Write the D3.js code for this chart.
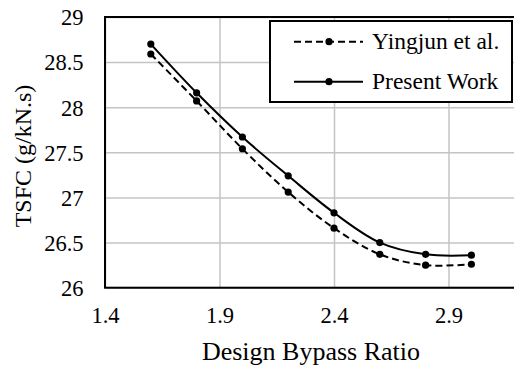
<!DOCTYPE html>
<html>
<head>
<meta charset="utf-8">
<script src="https://cdn.jsdelivr.net/npm/d3@7"></script>
<style>
  html, body { margin: 0; padding: 0; background: #fff; overflow: hidden; }
  svg text { font-family: "Liberation Serif", "Times New Roman", serif !important; fill: #000; }
</style>
</head>
<body>
<svg id="chart" width="514" height="370"></svg>
<script>
// Design bypass ratio sweep and the resulting TSFC values
const bypassRatio = [1.6, 1.8, 2.0, 2.2, 2.4, 2.6, 2.8, 3.0];
const yingjunTSFC = [28.59, 28.07, 27.54, 27.06, 26.66, 26.37, 26.25, 26.26];
const presentTSFC = [28.70, 28.16, 27.67, 27.24, 26.83, 26.50, 26.37, 26.36];
const xTicks = [1.4, 1.9, 2.4, 2.9];
const yTicks = [26, 26.5, 27, 27.5, 28, 28.5, 29];
const seriesNames = ["Yingjun et al.", "Present Work"];

const svg = d3.select("#chart");
const plotLeft = 105, plotTop = 17, plotBottom = 287.7, plotRight = 563;

const x = d3.scaleLinear().domain([1.4, 3.4]).range([plotLeft, plotRight]);
const y = d3.scaleLinear().domain([26, 29]).range([plotBottom, plotTop]);

// gridlines
svg.append("g")
  .attr("transform", `translate(0,${plotBottom})`)
  .call(d3.axisBottom(x).tickValues(xTicks).tickSize(-(plotBottom - plotTop)).tickFormat(""))
  .call(g => g.select(".domain").remove())
  .call(g => g.selectAll("line").attr("stroke", "#c4c4c4").attr("stroke-width", 1.5));
svg.append("g")
  .attr("transform", `translate(${plotLeft},0)`)
  .call(d3.axisLeft(y).tickValues(yTicks).tickSize(-(plotRight - plotLeft)).tickFormat(""))
  .call(g => g.select(".domain").remove())
  .call(g => g.selectAll("line").attr("stroke", "#c4c4c4").attr("stroke-width", 1.5));

// plot frame
svg.append("rect")
  .attr("x", plotLeft).attr("y", plotTop)
  .attr("width", plotRight - plotLeft).attr("height", plotBottom - plotTop)
  .attr("fill", "none").attr("stroke", "#000").attr("stroke-width", 2);

// tick labels
const xAxis = svg.append("g")
  .attr("transform", `translate(0,${plotBottom})`)
  .call(d3.axisBottom(x).tickValues(xTicks).tickSize(0).tickPadding(0).tickFormat(d3.format(".1f")));
xAxis.select(".domain").remove();
xAxis.selectAll("text")
  .attr("font-size", 22.5).attr("dy", null).attr("y", 35.5);

const yAxis = svg.append("g")
  .attr("transform", `translate(${plotLeft},0)`)
  .call(d3.axisLeft(y).tickValues(yTicks).tickSize(0).tickPadding(0).tickFormat(d => d3.format("")(d)));
yAxis.select(".domain").remove();
yAxis.selectAll("text")
  .attr("font-size", 22.5).attr("x", -21.5).attr("dy", "0.35em");

// axis titles
svg.append("text")
  .attr("x", 311).attr("y", 360)
  .attr("text-anchor", "middle").attr("font-size", 26)
  .text("Design Bypass Ratio");
svg.append("text")
  .attr("transform", "translate(31,156) rotate(-90)")
  .attr("text-anchor", "middle").attr("font-size", 24)
  .text("TSFC (g/kN.s)");

// series
const curve = d3.curveCatmullRom.alpha(0.5);
const line = d3.line().x(d => x(d[0])).y(d => y(d[1])).curve(curve);
const series = [
  { name: seriesNames[0], values: yingjunTSFC, dash: "7,4" },
  { name: seriesNames[1], values: presentTSFC, dash: null }
];
series.forEach(s => {
  const pts = bypassRatio.map((b, i) => [b, s.values[i]]);
  svg.append("path")
    .datum(pts)
    .attr("d", line)
    .attr("fill", "none").attr("stroke", "#000").attr("stroke-width", 2)
    .attr("stroke-dasharray", s.dash);
  svg.append("g").selectAll("circle").data(pts).join("circle")
    .attr("cx", d => x(d[0])).attr("cy", d => y(d[1])).attr("r", 3.6)
    .attr("fill", "#000");
});

// legend
const legend = svg.append("g");
legend.append("rect")
  .attr("x", 270).attr("y", 21).attr("width", 242).attr("height", 81)
  .attr("fill", "#fff").attr("stroke", "#000").attr("stroke-width", 2);
series.forEach((s, i) => {
  const ly = 41.7 + i * 40;
  legend.append("line")
    .attr("x1", 294).attr("x2", 363).attr("y1", ly).attr("y2", ly)
    .attr("stroke", "#000").attr("stroke-width", 2).attr("stroke-dasharray", s.dash);
  legend.append("circle").attr("cx", 329).attr("cy", ly).attr("r", 3.6).attr("fill", "#000");
  legend.append("text")
    .attr("x", 372).attr("y", ly + 7.5)
    .attr("font-size", 23.5)
    .text(s.name);
});
</script>
</body>
</html>
